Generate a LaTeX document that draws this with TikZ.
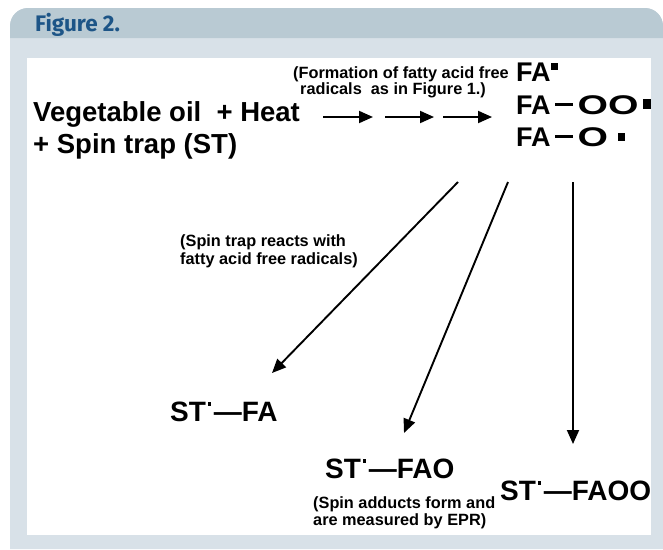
\documentclass[tikz,border=0pt]{standalone}
\usepackage{fontspec}
\setmainfont{Liberation Sans}
\newfontfamily\titlefont{Fira Sans}
\usetikzlibrary{arrows.meta}
\definecolor{hdr}{HTML}{B9CAD3}
\definecolor{panel}{HTML}{D8E1E8}
\definecolor{ttl}{HTML}{1D5587}
\newcommand{\stdot}{\hspace{0.06em}\rule[0.55em]{0.12em}{0.14em}\hspace{0.1em}}
\newcommand{\fadash}{\hspace{0.16em}\rule[0.3em]{0.68em}{0.09em}\hspace{0.16em}}
\newcommand{\wideO}[1]{\scalebox{1.45}[1]{#1}}
\begin{document}
\begin{tikzpicture}[x=1pt,y=-1pt,
  big/.style={font=\fontsize{27.5}{30}\selectfont\bfseries, inner sep=0pt, anchor=base west},
  mid/.style={font=\fontsize{28}{30}\selectfont\bfseries, inner sep=0pt, anchor=base west},
  rad/.style={font=\fontsize{27}{30}\selectfont\bfseries, inner sep=0pt, anchor=base west},
  note/.style={font=\fontsize{16.3}{17.5}\selectfont\bfseries, inner sep=0pt, anchor=base west, align=left},
  arr/.style={line width=1.9pt, -{Triangle[length=14pt,width=12pt]}}]
\useasboundingbox (0,0) rectangle (663,549);
% panel
\fill[panel] (10,549) [rounded corners=18pt] -- (10,8) -- (663,8) [sharp corners] -- (663,549) -- cycle;
\fill[hdr] (10,38) [rounded corners=18pt] -- (10,8) -- (663,8) [sharp corners] -- (663,38) -- cycle;
\fill[white] (27,58) rectangle (651,535);
\node[font=\titlefont\fontsize{22.5}{24}\selectfont\bfseries, text=ttl, anchor=base west, inner sep=0pt] (title) at (35,31) {Figure 2.};
% left text
\node[big] (oil) at (33,121) {Vegetable oil \ + Heat};
\node[big] (st) at (33,153) {+ Spin trap (ST)};
% formation note
\node[note] (form1) at (293,78) {(Formation of fatty acid free};
\node[note] (form2) at (300,94) {radicals \ as in Figure 1.)};
% radicals
\node[rad] (fa) at (516,81) {FA\hspace{0.02em}\rule[0.4em]{0.26em}{0.28em}};
\node[rad] (faoo) at (516,114) {FA\fadash\wideO{OO}\hspace{0.18em}\rule[0.18em]{0.28em}{0.36em}};
\node[rad] (fao) at (516,146) {FA\fadash\wideO{O}\hspace{0.36em}\rule[0.18em]{0.26em}{0.3em}};
% horizontal arrows
\coordinate (h1s) at (323,117); \coordinate (h1e) at (373,117);
\coordinate (h2s) at (385,117); \coordinate (h2e) at (434,117);
\coordinate (h3s) at (443,117); \coordinate (h3e) at (492,117);
\draw[arr] (h1s) -- (h1e);
\draw[arr] (h2s) -- (h2e);
\draw[arr] (h3s) -- (h3e);
% spin trap note
\node[note] (react1) at (180,246) {(Spin trap reacts with};
\node[note] (react2) at (180,264) {fatty acid free radicals)};
% adducts
\node[mid] (stfa) at (170,421) {ST\stdot\textemdash FA};
\node[mid] (stfao) at (325,478) {ST\stdot\textemdash FAO};
\node[mid] (stfaoo) at (500,500) {ST\stdot\textemdash FAOO};
\node[note] (epr1) at (313,508) {(Spin adducts form and};
\node[note] (epr2) at (313,525) {are measured by EPR)};
% diagonal arrows
\coordinate (d1s) at (458,182); \coordinate (d1e) at (272,373);
\coordinate (d2s) at (508,182); \coordinate (d2e) at (404,433);
\coordinate (d3s) at (573,182); \coordinate (d3e) at (573,444);
\draw[arr] (d1s) -- (d1e);
\draw[arr] (d2s) -- (d2e);
\draw[arr] (d3s) -- (d3e);
\end{tikzpicture}
\end{document}
